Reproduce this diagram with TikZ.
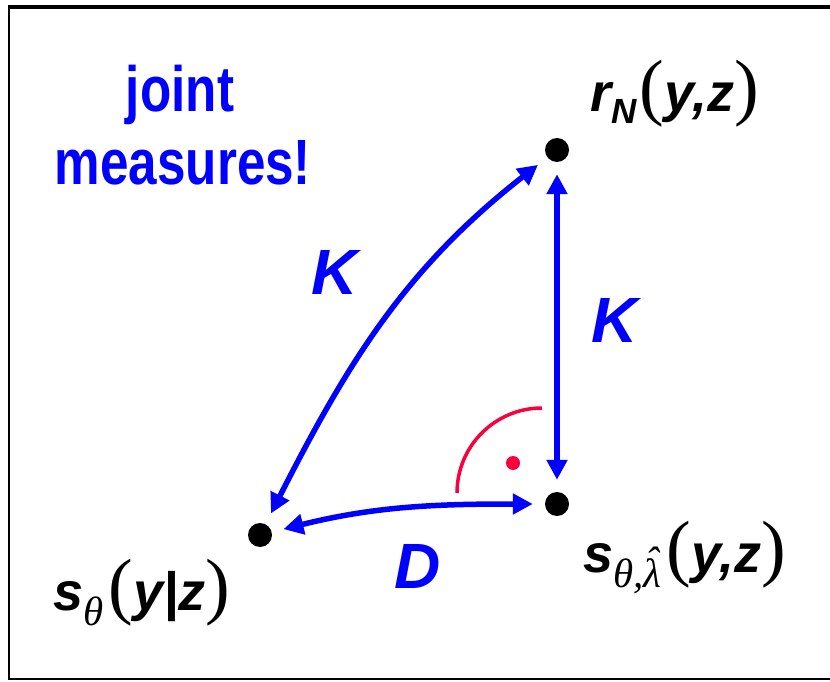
\documentclass[tikz,border=0pt]{standalone}
\usepackage{fontspec}
\setmainfont{Liberation Sans}
\newfontfamily\grkfont{Liberation Serif}
\usepackage{xcolor}
\usetikzlibrary{arrows.meta}

\definecolor{diagblue}{RGB}{0,0,255}
\definecolor{anglered}{RGB}{250,0,60}

\newcommand{\bi}[1]{{\bfseries\itshape #1}}
\newcommand{\lpar}{{\fontsize{74}{74}\grkfont(}}
\newcommand{\rpar}{{\fontsize{74}{74}\grkfont)}}
\newcommand{\subsc}[1]{\raisebox{-12pt}{\fontsize{35}{35}\selectfont\bi{#1}}\kern3pt}
\newcommand{\grk}[1]{\raisebox{-15pt}{\fontsize{41}{41}\grkfont\itshape #1}\kern5pt}
\newcommand{\hatlam}{\ooalign{λ\cr\hidewidth\raisebox{0.28em}{ˆ}\hidewidth\cr}}

\begin{document}
\begin{tikzpicture}[x=1pt, y=1pt,
    dot/.style={circle, fill=black, minimum size=24pt, inner sep=0pt},
    lbl/.style={font=\fontsize{54}{54}\selectfont, inner sep=0pt, anchor=base west},
    blu/.style={text=diagblue, font=\fontsize{64}{64}\selectfont\bfseries\itshape, inner sep=0pt, anchor=base},
    link/.style={diagblue, line width=5.5pt,
        {Triangle[length=20pt,width=20pt]}-{Triangle[length=20pt,width=20pt]},
        shorten <=12pt, shorten >=12pt}]

    \useasboundingbox (0,0) rectangle (830,681);

    % frame
    \draw[line width=2pt] (830,2) -- (8.5,2) -- (8.5,673.5);
    \draw[line width=4pt] (7.5,673.5) -- (830,673.5);

    \node[dot] (rN) at (557,531) {};
    \node[dot] (stl) at (557,177) {};
    \node[dot] (sth) at (260,146) {};

    \node[lbl] (rNlabel) at (590,569) {\bi{r}\subsc{N}\lpar\bi{y,z}\rpar};
    \node[lbl] (stllabel) at (583,109) {\bi{s}\grk{θ,\hatlam}\lpar\bi{y,z}\rpar};
    \node[lbl] (sthlabel) at (53,71) {\bi{s}\grk{θ}\lpar\bi{y|z}\rpar};

    \node[blu, font=\fontsize{64}{64}\selectfont\bfseries] (joint) at (180,569) {\scalebox{0.8}[1]{joint}};
    \node[blu, font=\fontsize{64}{64}\selectfont\bfseries] (meas) at (183,496) {\scalebox{0.8}[1]{measures!}};

    \draw[link] (rN) to[out=218, in=63] node[blu, pos=0.42, xshift=-70pt] (Kleft) {K} (sth);
    \draw[link] (rN) -- node[blu, xshift=58pt, yshift=-16pt] (Kright) {K} (stl);
    \draw[link] (sth) to[out=14, in=180] node[blu, below=33pt, xshift=10pt] (Dlabel) {D} (stl);

    % right angle mark
    \draw[anglered, line width=3.5pt] (457,188) arc[start angle=180, end angle=90, radius=85];
    \fill[anglered] (513,218) circle (7pt);

\end{tikzpicture}
\end{document}
